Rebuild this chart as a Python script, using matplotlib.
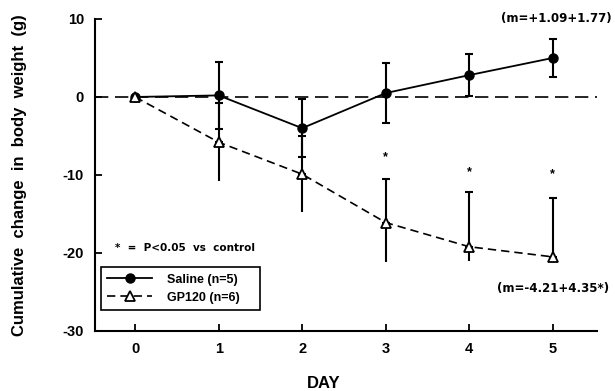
import matplotlib.pyplot as plt
import numpy as np

plt.rcParams['font.family'] = ['Liberation Sans', 'DejaVu Sans']
plt.rcParams['font.weight'] = 'bold'
plt.rcParams['axes.unicode_minus'] = False

days = [0, 1, 2, 3, 4, 5]
saline = [0, 0.2, -4.0, 0.5, 2.8, 5.0]
saline_sem = [0, 4.3, 3.7, 3.8, 2.7, 2.4]
gp120 = [0, -5.8, -9.9, -16.1, -19.2, -20.5]
gp120_up = [0, 5.0, 4.9, 5.6, 7.0, 7.5]
gp120_lo = [0, 5.0, 4.9, 5.0, 1.8, 0]
star_days = [3, 4, 5]
star_y = [-7.7, -9.6, -9.9]

fig = plt.figure(figsize=(6.15, 3.91), dpi=100)
ax = fig.add_axes([0.1545, 0.1535, 0.8163, 0.798])

ax.axhline(0, color='black', lw=1.2, dashes=(8, 4), zorder=1)

# error bars
ax.errorbar(days, saline, yerr=saline_sem, fmt='none', ecolor='black',
            elinewidth=1.5, capsize=3, capthick=1.5, zorder=2)
ax.errorbar(days, gp120, yerr=[np.zeros(6), gp120_up], fmt='none', ecolor='black',
            elinewidth=1.5, capsize=3, capthick=1.5, zorder=2)
ax.errorbar(days, gp120, yerr=[gp120_lo, np.zeros(6)], fmt='none', ecolor='black',
            elinewidth=1.5, capsize=0, zorder=2)

ax.plot(days, saline, color='black', lw=1.3, marker='o', ms=6.5,
        mfc='black', mec='black', label='Saline (n=5)    ', zorder=4)
ax.plot(days, gp120, color='black', lw=1.2, dashes=(5, 3), marker='^', ms=7,
        mfc='white', mec='black', mew=1.3, label='GP120 (n=6)    ', zorder=5)

for d, y in zip(star_days, star_y):
    ax.text(d, y, '*', ha='center', va='center', fontsize=9)

ann = dict(family='DejaVu Sans', fontweight='bold', fontsize=8.5)
ax.text(5.70, 10.0, '(m=+1.09+1.77)', ha='right', va='center', **ann)
ax.text(5.67, -24.5, '(m=-4.21+4.35*)', ha='right', va='center', **ann)
ax.text(-0.24, -19.3, '*  =  P<0.05  vs  control', ha='left', va='center',
        family='DejaVu Sans', fontweight='bold', fontsize=7.5)

leg = ax.legend(loc='lower left', bbox_to_anchor=(0.012, 0.067), fontsize=9,
                fancybox=False, edgecolor='black', framealpha=1,
                handlelength=3.6, handletextpad=1.2, borderpad=0.5,
                labelspacing=0.5, borderaxespad=0)
leg.get_frame().set_linewidth(1.2)

ax.set_xlim(-0.48, 5.53)
ax.set_ylim(-30, 10)
ax.set_xticks(days)
ax.set_yticks([10, 0, -10, -20, -30])
ax.spines['top'].set_visible(False)
ax.spines['right'].set_visible(False)
for s in ['left', 'bottom']:
    ax.spines[s].set_linewidth(1.5)
ax.tick_params(direction='in', length=5, width=1.3, labelsize=10.5, pad=8)

ax.set_ylabel('Cumulative  change  in  body  weight  (g)', fontsize=12,
              fontweight='bold')
ax.yaxis.set_label_coords(-0.135, 0.498)
ax.set_xlabel('DAY', fontsize=12, fontweight='bold')
ax.xaxis.set_label_coords(0.456, -0.143)

fig.savefig('out.png', dpi=100)
